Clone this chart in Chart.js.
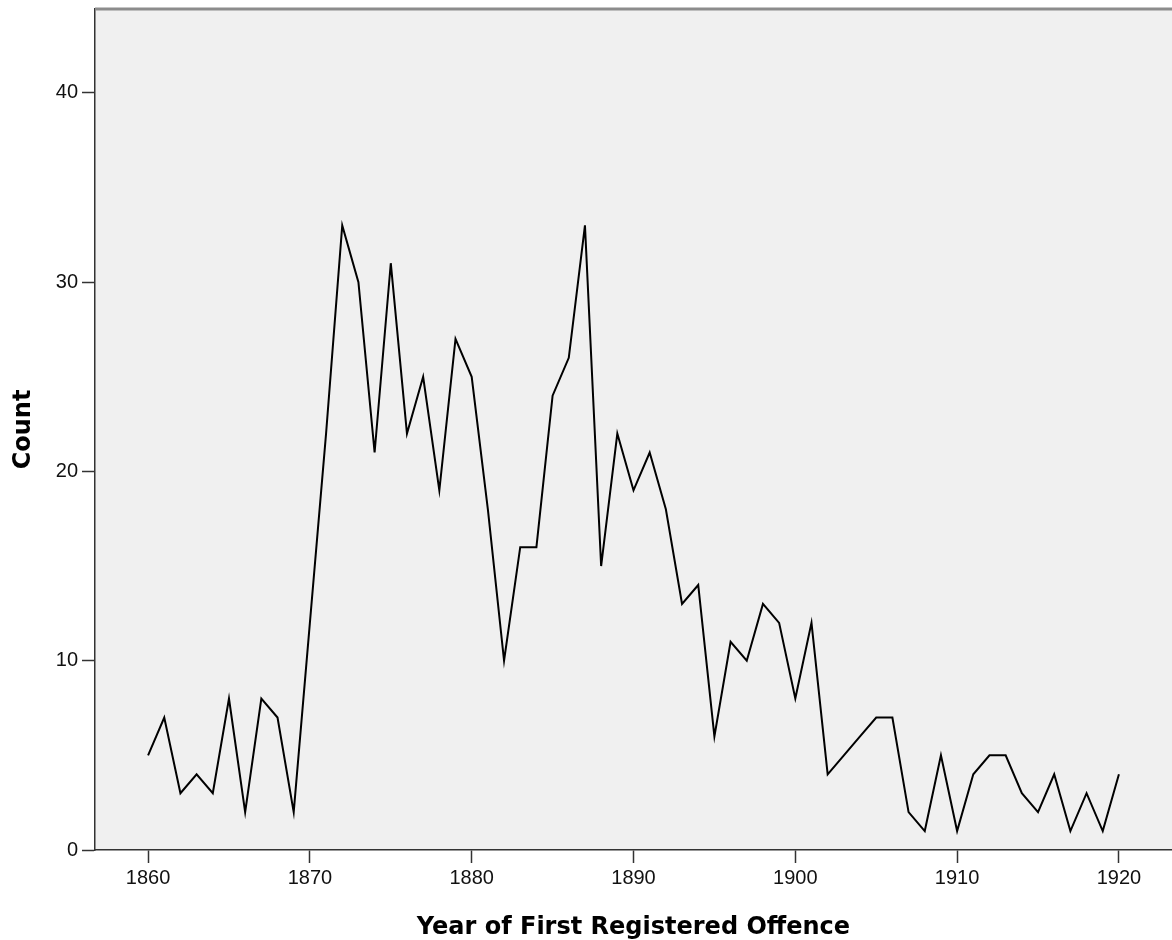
<!DOCTYPE html>
<html>
<head>
<meta charset="utf-8">
<title>Year of First Registered Offence</title>
<script src="https://cdn.jsdelivr.net/npm/chart.js@4.4.1/dist/chart.umd.min.js"></script>
<style>
    html, body { margin: 0; padding: 0; background: #ffffff; }
    #wrap { width: 1172px; height: 940px; position: relative; }
</style>
</head>
<body>
<div id="wrap"><canvas id="offence-line-chart"></canvas></div>
<script>
// Counts per year
const years = [
    1860, 1861, 1862, 1863, 1864, 1865, 1866, 1867, 1868, 1869,
    1870, 1871, 1872, 1873, 1874, 1875, 1876, 1877, 1878, 1879,
    1880, 1881, 1882, 1883, 1884, 1885, 1886, 1887, 1888, 1889,
    1890, 1891, 1892, 1893, 1894, 1895, 1896, 1897, 1898, 1899,
    1900, 1901, 1902, 1903, 1904, 1905, 1906, 1907, 1908, 1909,
    1910, 1911, 1912, 1913, 1914, 1915, 1916, 1917, 1918, 1919,
    1920
];
const counts = [
    5, 7, 3, 4, 3, 8, 2, 8, 7, 2,
    12, 22, 33, 30, 21, 31, 22, 25, 19, 27,
    25, 18, 10, 16, 16, 24, 26, 33, 15, 22,
    19, 21, 18, 13, 14, 6, 11, 10, 13, 12,
    8, 12, 4, 5, 6, 7, 7, 2, 1, 5,
    1, 4, 5, 5, 3, 2, 4, 1, 3, 1,
    4
];
const xTicks = [1860, 1870, 1880, 1890, 1900, 1910, 1920];
const yTicks = [0, 10, 20, 30, 40];

const xTitle = 'Year of First Registered Offence';
const yTitle = 'Count';

document.addEventListener('DOMContentLoaded', () => {
    const axisColor = '#333333';
    const tickFont = { family: "'Liberation Sans', Arial, sans-serif", size: 20 };
    const titleFont = { family: "'DejaVu Sans', Verdana, sans-serif", size: 24, weight: 'bold', lineHeight: 1 };

    // grey plot background plus the thick frame line along the top
    const plotFrame = {
        id: 'plotFrame',
        beforeDraw(chart) {
            const { ctx, chartArea: a } = chart;
            ctx.save();
            ctx.fillStyle = '#f0f0f0';
            ctx.fillRect(a.left, a.top, a.right - a.left, a.bottom - a.top);
            ctx.restore();
        },
        afterDraw(chart) {
            const { ctx, chartArea: a } = chart;
            ctx.save();
            ctx.strokeStyle = '#8c8c8c';
            ctx.lineWidth = 3;
            ctx.beginPath();
            ctx.moveTo(a.left, a.top);
            ctx.lineTo(a.right, a.top);
            ctx.stroke();
            ctx.restore();
        }
    };

    const canvas = document.getElementById('offence-line-chart');
    new Chart(canvas, {
        type: 'line',
        data: {
            datasets: [{
                label: yTitle,
                data: years.map((yr, i) => ({ x: yr, y: counts[i] })),
                borderColor: '#000000',
                borderWidth: 2,
                pointRadius: 0,
                tension: 0,
                fill: false
            }]
        },
        options: {
            responsive: true,
            maintainAspectRatio: false,
            animation: false,
            layout: { padding: { top: 9, right: 0, bottom: 0, left: 0 } },
            scales: {
                x: {
                    type: 'linear',
                    min: 1856.72,
                    max: 1923.28,
                    afterBuildTicks: (scale) => { scale.ticks = xTicks.map(v => ({ value: v })); },
                    afterFit: (scale) => {
                        scale.height = 90;
                        scale.paddingLeft = 0;
                        scale.paddingRight = 0;
                    },
                    grid: { drawOnChartArea: false, drawTicks: true, tickLength: 13, tickColor: axisColor, tickWidth: 1.5 },
                    border: { display: true, color: axisColor, width: 1.5 },
                    ticks: {
                        color: '#111111',
                        font: tickFont,
                        padding: 3,
                        maxRotation: 0,
                        callback: (value) => String(value)
                    },
                    title: {
                        display: true,
                        text: xTitle,
                        color: '#000000',
                        font: titleFont,
                        padding: { top: 0, bottom: 0 }
                    }
                },
                y: {
                    min: 0,
                    max: 44.43,
                    afterBuildTicks: (scale) => { scale.ticks = yTicks.map(v => ({ value: v })); },
                    afterFit: (scale) => {
                        scale.width = 95;
                        scale.paddingTop = 0;
                        scale.paddingBottom = 0;
                    },
                    grid: { drawOnChartArea: false, drawTicks: true, tickLength: 13, tickColor: axisColor, tickWidth: 1.5 },
                    border: { display: true, color: axisColor, width: 1.5 },
                    ticks: {
                        color: '#111111',
                        font: tickFont,
                        padding: 4,
                        callback: (value) => String(value)
                    },
                    title: {
                        display: true,
                        text: yTitle,
                        color: '#000000',
                        font: titleFont,
                        padding: { top: 12, bottom: 0 }
                    }
                }
            },
            plugins: {
                legend: { display: false },
                tooltip: { enabled: false }
            }
        },
        plugins: [plotFrame]
    });
});
</script>
</body>
</html>
